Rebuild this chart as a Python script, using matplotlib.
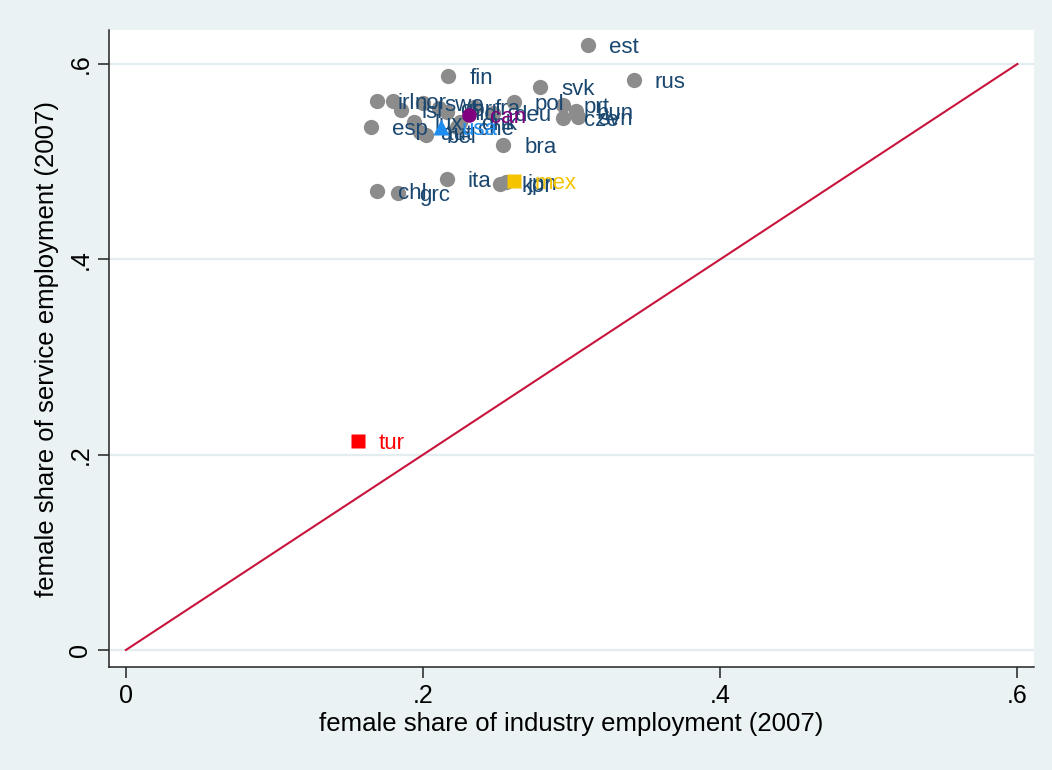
import numpy as np
import matplotlib.pyplot as plt

plt.rcParams['font.family'] = ['Liberation Sans', 'DejaVu Sans']

# Countries drawn as plain grey circles
countries = ["est", "rus", "fin", "svk", "pol", "prt", "hun", "svn", "cze",
             "irl", "nor", "swe", "isl", "gbr", "nld", "fra", "deu", "esp",
             "lux", "aut", "bel", "che", "dnk", "bra", "ita", "chl", "grc",
             "kor", "jpn"]
industry = [0.311, 0.342, 0.217, 0.279, 0.261, 0.294, 0.303, 0.304, 0.294,
            0.169, 0.180, 0.200, 0.185, 0.211, 0.216, 0.234, 0.247, 0.165,
            0.194, 0.198, 0.202, 0.223, 0.225, 0.254, 0.216, 0.169, 0.183,
            0.252, 0.256]
service = [0.619, 0.584, 0.588, 0.576, 0.561, 0.558, 0.552, 0.546, 0.545,
           0.562, 0.562, 0.560, 0.553, 0.555, 0.551, 0.556, 0.550, 0.536,
           0.541, 0.530, 0.527, 0.536, 0.541, 0.517, 0.482, 0.470, 0.468,
           0.477, 0.479]

# Highlighted countries: name, x, y, marker, colour
hl_names = ["can", "usa", "mex", "tur"]
hl_industry = [0.231, 0.212, 0.261, 0.156]
hl_service = [0.548, 0.536, 0.480, 0.214]
hl_markers = ["o", "^", "s", "s"]
hl_colors = ["#800080", "#1e8cf0", "#f5c400", "#ff0000"]

ticks = [0, 0.2, 0.4, 0.6]
tick_labels = ["0", ".2", ".4", ".6"]

navy = "#1a476f"
bg = "#eaf2f3"

fig = plt.figure(figsize=(10.52, 7.7), dpi=100, facecolor=bg)
ax = fig.add_axes([0.1036, 0.1338, 0.8793, 0.8272], facecolor="white")

# light horizontal gridlines
for t in ticks:
    ax.axhline(t, color="#e3ecee", lw=1.6, zorder=0)

# 45 degree reference line
ax.plot([0, 0.6], [0, 0.6], color="#c8143c", lw=1.5, zorder=1)

ax.plot(industry, service, "o", color="#8c8c8c", ms=11, mec="none", zorder=2)
for name, x, y in zip(countries, industry, service):
    ax.annotate(name, (x, y), xytext=(15, 0), textcoords="offset points",
                va="center_baseline", ha="left", color=navy, fontsize=16, zorder=3)

for name, x, y, m, c in zip(hl_names, hl_industry, hl_service, hl_markers, hl_colors):
    ms = 12 if m == "^" else 10.5
    ax.plot(x, y, m, color=c, ms=ms, mec="none", zorder=4)
    ax.annotate(name, (x, y), xytext=(15, 0), textcoords="offset points",
                va="center_baseline", ha="left", color=c, fontsize=16, zorder=5)

ax.set_xlim(-0.0114, 0.6112)
ax.set_ylim(-0.0174, 0.6348)

ax.set_xticks(ticks)
ax.set_xticklabels(tick_labels, fontsize=18)
ax.set_yticks(ticks)
ax.set_yticklabels(tick_labels, fontsize=18, rotation=90, va="center")
ax.tick_params(direction="out", length=8, width=1.1, color="#222222", pad=4)

for side in ["top", "right"]:
    ax.spines[side].set_visible(False)
for side in ["left", "bottom"]:
    ax.spines[side].set_linewidth(1.1)
    ax.spines[side].set_color("#222222")

ax.set_xlabel("female share of industry employment (2007)", fontsize=18.5, labelpad=3)
ax.set_ylabel("female share of service employment (2007)", fontsize=18.5, labelpad=7)

fig.savefig("out.png", dpi=100, facecolor=bg)
